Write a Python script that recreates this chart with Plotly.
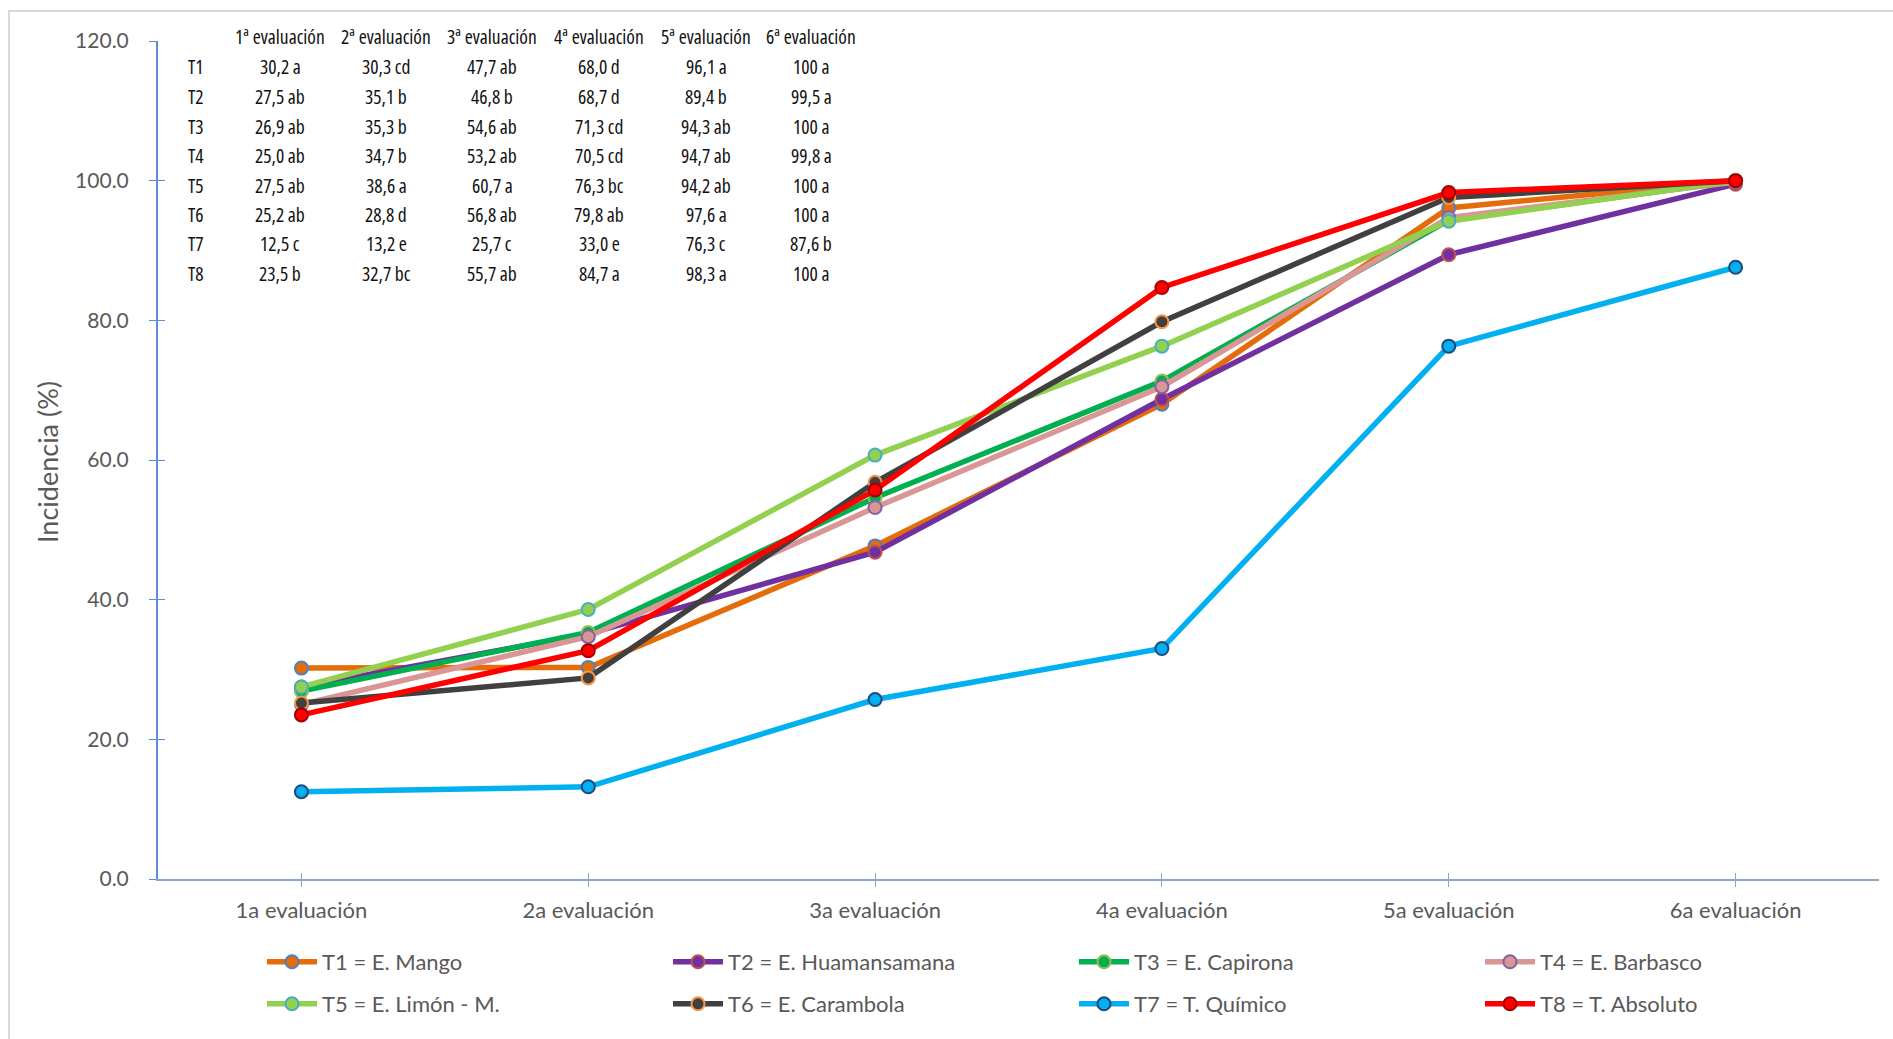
import plotly.graph_objects as go

# Evaluation rounds (x categories)
evaluaciones = ["1a evaluación", "2a evaluación", "3a evaluación",
                "4a evaluación", "5a evaluación", "6a evaluación"]
encabezados = ["1ª evaluación", "2ª evaluación", "3ª evaluación",
               "4ª evaluación", "5ª evaluación", "6ª evaluación"]

tratamientos = ["T1", "T2", "T3", "T4", "T5", "T6", "T7", "T8"]
nombres = ["T1 = E. Mango", "T2 = E. Huamansamana", "T3 = E. Capirona",
           "T4 = E. Barbasco", "T5 = E. Limón - M.", "T6 = E. Carambola",
           "T7 = T. Químico", "T8 = T. Absoluto"]

# Incidence (%) per treatment and evaluation
t1 = [30.2, 30.3, 47.7, 68.0, 96.1, 100]
t2 = [27.5, 35.1, 46.8, 68.7, 89.4, 99.5]
t3 = [26.9, 35.3, 54.6, 71.3, 94.3, 100]
t4 = [25.0, 34.7, 53.2, 70.5, 94.7, 99.8]
t5 = [27.5, 38.6, 60.7, 76.3, 94.2, 100]
t6 = [25.2, 28.8, 56.8, 79.8, 97.6, 100]
t7 = [12.5, 13.2, 25.7, 33.0, 76.3, 87.6]
t8 = [23.5, 32.7, 55.7, 84.7, 98.3, 100]

# Significance letters (mean comparison) per treatment and evaluation
l1 = ["a", "cd", "ab", "d", "a", "a"]
l2 = ["ab", "b", "b", "d", "b", "a"]
l3 = ["ab", "b", "ab", "cd", "ab", "a"]
l4 = ["ab", "b", "ab", "cd", "ab", "a"]
l5 = ["ab", "a", "a", "bc", "ab", "a"]
l6 = ["ab", "d", "ab", "ab", "a", "a"]
l7 = ["c", "e", "c", "e", "c", "b"]
l8 = ["b", "bc", "ab", "a", "a", "a"]

series = [t1, t2, t3, t4, t5, t6, t7, t8]
letras = [l1, l2, l3, l4, l5, l6, l7, l8]

colores_linea = ["#E46C0A", "#7030A0", "#00B050", "#D99694",
                 "#92D050", "#404040", "#00B0F0", "#FF0000"]
colores_borde = ["#4F81BD", "#C0504D", "#9BBB59", "#8064A2",
                 "#4BACC6", "#F79646", "#1F497D", "#A00000"]

W, H = 1893, 1039
L, R, T, B = 158, 14, 41, 160
PW, PH = W - L - R, H - T - B


def px(x):
    return (x - L) / PW


def py(y):
    return (H - B - y) / PH


fig = go.Figure()

for i, vals in enumerate(series):
    fig.add_trace(go.Scatter(
        x=evaluaciones, y=vals, name=nombres[i],
        mode="lines+markers",
        line=dict(color=colores_linea[i], width=5.5),
        marker=dict(size=13, color=colores_linea[i],
                    line=dict(color=colores_borde[i], width=2)),
        legend="legend" if i < 4 else "legend2",
    ))

# invisible trace carrying the inner tick axes
fig.add_trace(go.Scatter(x=[0], y=[None], xaxis="x2", yaxis="y2",
                         showlegend=False, hoverinfo="skip", mode="markers"))

gris = "#595959"
fuente = "Lato, 'Open Sans', sans-serif"
leyenda_comun = dict(orientation="h", xref="container", yref="container",
                     xanchor="left", yanchor="middle",
                     entrywidth=341, entrywidthmode="pixels", itemwidth=50,
                     font=dict(size=22, color=gris, family=fuente),
                     bgcolor="rgba(0,0,0,0)")

fig.update_layout(
    width=W, height=H,
    margin=dict(l=L, r=R, t=T, b=B, autoexpand=False),
    paper_bgcolor="white", plot_bgcolor="white",
    font=dict(family=fuente, color=gris),
    xaxis=dict(type="category", range=[-0.5, 5.5],
               showline=True, linecolor="#8EA5C8", linewidth=2,
               showgrid=False, zeroline=False,
               ticks="outside", ticklen=6, tickcolor="#8EA5C8", tickwidth=1,
               tickfont=dict(size=22, color=gris, family=fuente),
               ticklabelstandoff=5),
    yaxis=dict(range=[0, 120], dtick=20, tickformat=".1f",
               showline=True, linecolor="#5B8ED6", linewidth=2,
               showgrid=False, zeroline=False,
               ticks="outside", ticklen=7, tickcolor="#5B8ED6", tickwidth=1,
               tickfont=dict(size=21, color=gris, family=fuente),
               ticklabelstandoff=16),
    xaxis2=dict(overlaying="x", anchor="y2", side="bottom",
                range=[-0.5, 5.5], tickvals=[0, 1, 2, 3, 4, 5, 5.5],
                showticklabels=False, showline=False, showgrid=False,
                zeroline=False, ticks="inside", ticklen=6,
                tickcolor="#8EA5C8", tickwidth=1),
    yaxis2=dict(overlaying="y", anchor="x2", side="left",
                range=[0, 120], dtick=20, showticklabels=False,
                showline=False, showgrid=False, zeroline=False,
                ticks="inside", ticklen=7, tickcolor="#5B8ED6", tickwidth=1),
    legend=dict(x=262 / W, y=1 - 962 / H, **leyenda_comun),
    legend2=dict(x=262 / W, y=1 - 1004 / H, **leyenda_comun),
    showlegend=True,
)

# chart frame
fig.add_shape(type="rect", xref="paper", yref="paper",
              x0=px(9), x1=px(1960), y0=py(11), y1=py(1100),
              line=dict(color="#D9D9D9", width=2), layer="below")

# y-axis title
fig.add_annotation(text="Incidencia (%)", xref="paper", yref="paper",
                   x=px(48), y=py(462), xanchor="center", yanchor="middle",
                   textangle=-90, showarrow=False,
                   font=dict(size=27, color=gris, family=fuente))

# table of means with significance letters
tabla_fuente = "'Open Sans', sans-serif"
tabla_color = "#111111"
col_x = [280, 386, 492, 599, 706, 811]
fila_y0, paso = 67, 29.5


def fmt(v):
    return "100" if v == 100 else f"{v:.1f}".replace(".", ",")


def celda(texto, x, y, size):
    fig.add_annotation(text=f'<span style="font-stretch:condensed">{texto}</span>',
                       xref="paper", yref="paper",
                       x=px(x), y=py(y), xanchor="center", yanchor="middle",
                       showarrow=False,
                       font=dict(size=size, color=tabla_color,
                                 family=tabla_fuente))


for j, h in enumerate(encabezados):
    celda(h, col_x[j], 37, 19.5)

for i, t in enumerate(tratamientos):
    yy = fila_y0 + paso * i
    celda(t, 196, yy, 19.5)
    for j in range(6):
        celda(f"{fmt(series[i][j])} {letras[i][j]}", col_x[j], yy, 19.5)

fig.write_html("out.html")
